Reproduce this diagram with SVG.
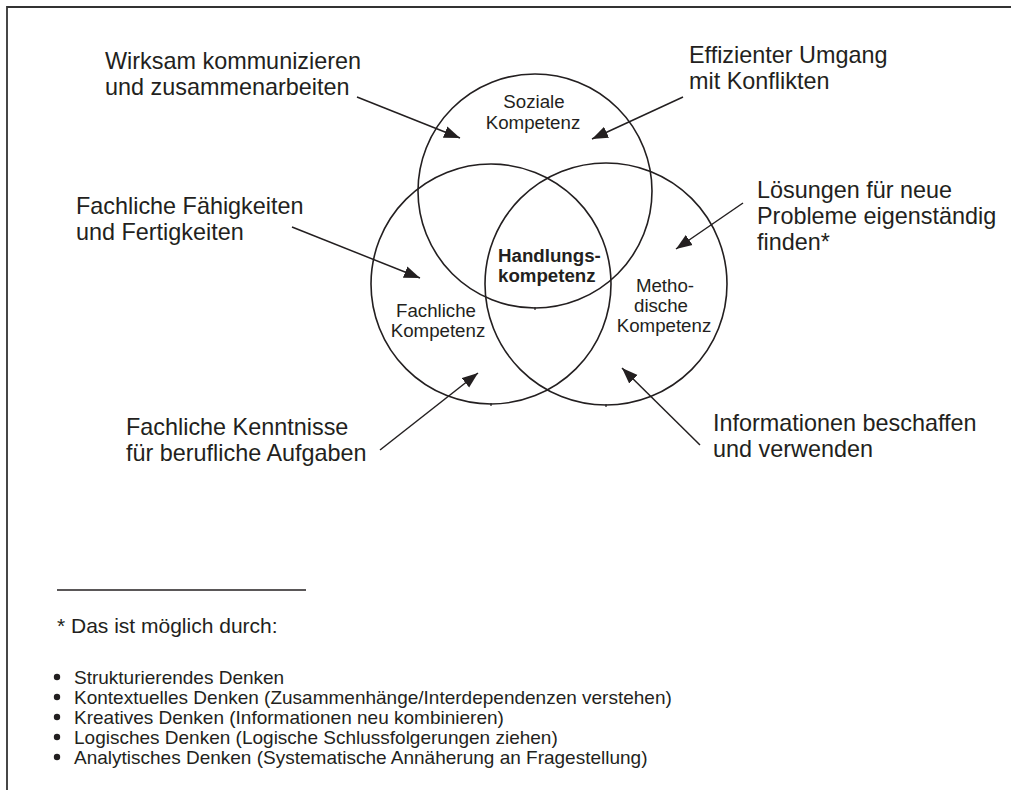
<svg xmlns="http://www.w3.org/2000/svg" width="1011" height="794" viewBox="0 0 1011 794">
<defs>
<style>
.lbl{font-family:"Liberation Sans",Arial,Helvetica,sans-serif;font-size:23.4px;fill:#231f20}
.in{font-family:"Liberation Sans",Arial,Helvetica,sans-serif;font-size:18.7px;fill:#231f20}
.bold{font-weight:bold}
.fn{font-family:"Liberation Sans",Arial,Helvetica,sans-serif;font-size:19px;fill:#231f20}
.fh{font-family:"Liberation Sans",Arial,Helvetica,sans-serif;font-size:21px;fill:#231f20}
.circ{fill:none;stroke:#231f20;stroke-width:1.6}
.arr{fill:none;stroke:#231f20;stroke-width:1.5;marker-end:url(#ah)}
.tick{stroke:#231f20;stroke-width:1.2}
</style>
<marker id="ah" markerUnits="userSpaceOnUse" markerWidth="17" markerHeight="13" refX="16" refY="6.5" orient="auto">
<path d="M0,0.5 L16,6.5 L0,12.5 z" fill="#231f20"/>
</marker>
</defs>
<rect width="1011" height="794" fill="#ffffff"/>
<path d="M7,790 V7 H1011" fill="none" stroke="#333333" stroke-width="1.8"/>

<g id="soziale">
<circle class="circ" cx="535" cy="191" r="117"/>
<line class="tick" x1="535" y1="307" x2="535" y2="310"/>
<text class="in" x="534" y="108" text-anchor="middle">Soziale</text>
<text class="in" x="533" y="128.5" text-anchor="middle">Kompetenz</text>
</g>
<g id="fachliche">
<circle class="circ" cx="491" cy="284" r="120"/>
<line class="tick" x1="491" y1="403" x2="491" y2="406"/>
<text class="in" x="436" y="317" text-anchor="middle">Fachliche</text>
<text class="in" x="438" y="337" text-anchor="middle">Kompetenz</text>
</g>
<g id="methodische">
<circle class="circ" cx="606" cy="284" r="121"/>
<line class="tick" x1="606" y1="404" x2="606" y2="407"/>
<text class="in" x="665" y="292" text-anchor="middle">Metho-</text>
<text class="in" x="661" y="312" text-anchor="middle">dische</text>
<text class="in" x="664" y="332" text-anchor="middle">Kompetenz</text>
</g>
<g id="handlungskompetenz">
<text class="in bold" x="498" y="262">Handlungs-</text>
<text class="in bold" x="498" y="282">kompetenz</text>
</g>

<g id="label-wirksam">
<text class="lbl" x="105" y="69">Wirksam kommunizieren</text>
<text class="lbl" x="105" y="94.5">und zusammenarbeiten</text>
</g>
<g id="label-effizient">
<text class="lbl" x="689" y="63">Effizienter Umgang</text>
<text class="lbl" x="689" y="88.5">mit Konflikten</text>
</g>
<g id="label-faehigkeiten">
<text class="lbl" x="76" y="214">Fachliche Fähigkeiten</text>
<text class="lbl" x="76" y="240">und Fertigkeiten</text>
</g>
<g id="label-loesungen">
<text class="lbl" x="757" y="198">Lösungen für neue</text>
<text class="lbl" x="757" y="224">Probleme eigenständig</text>
<text class="lbl" x="757" y="250">finden*</text>
</g>
<g id="label-kenntnisse">
<text class="lbl" x="126" y="435">Fachliche Kenntnisse</text>
<text class="lbl" x="126" y="461">für berufliche Aufgaben</text>
</g>
<g id="label-informationen">
<text class="lbl" x="713" y="431">Informationen beschaffen</text>
<text class="lbl" x="713" y="456.5">und verwenden</text>
</g>

<g id="connectors">
<line class="arr" x1="357" y1="97" x2="460" y2="138"/>
<line class="arr" x1="683" y1="97" x2="592" y2="139"/>
<line class="arr" x1="292" y1="227" x2="420" y2="278"/>
<line class="arr" x1="743" y1="203" x2="676" y2="249"/>
<line class="arr" x1="380" y1="450" x2="478" y2="373"/>
<line class="arr" x1="700" y1="445" x2="622" y2="368"/>
</g>

<g id="footnote">
<line x1="57" y1="590" x2="306" y2="590" stroke="#231f20" stroke-width="1.4"/>
<text class="fh" x="57" y="633">* Das ist möglich durch:</text>
<g fill="#231f20">
<circle cx="57" cy="677" r="3.2"/>
<circle cx="57" cy="697" r="3.2"/>
<circle cx="57" cy="717" r="3.2"/>
<circle cx="57" cy="737" r="3.2"/>
<circle cx="57" cy="757" r="3.2"/>
</g>
<text class="fn" x="74" y="684">Strukturierendes Denken</text>
<text class="fn" x="74" y="704">Kontextuelles Denken (Zusammenhänge/Interdependenzen verstehen)</text>
<text class="fn" x="74" y="724">Kreatives Denken (Informationen neu kombinieren)</text>
<text class="fn" x="74" y="744">Logisches Denken (Logische Schlussfolgerungen ziehen)</text>
<text class="fn" x="74" y="764">Analytisches Denken (Systematische Annäherung an Fragestellung)</text>
</g>
</svg>
